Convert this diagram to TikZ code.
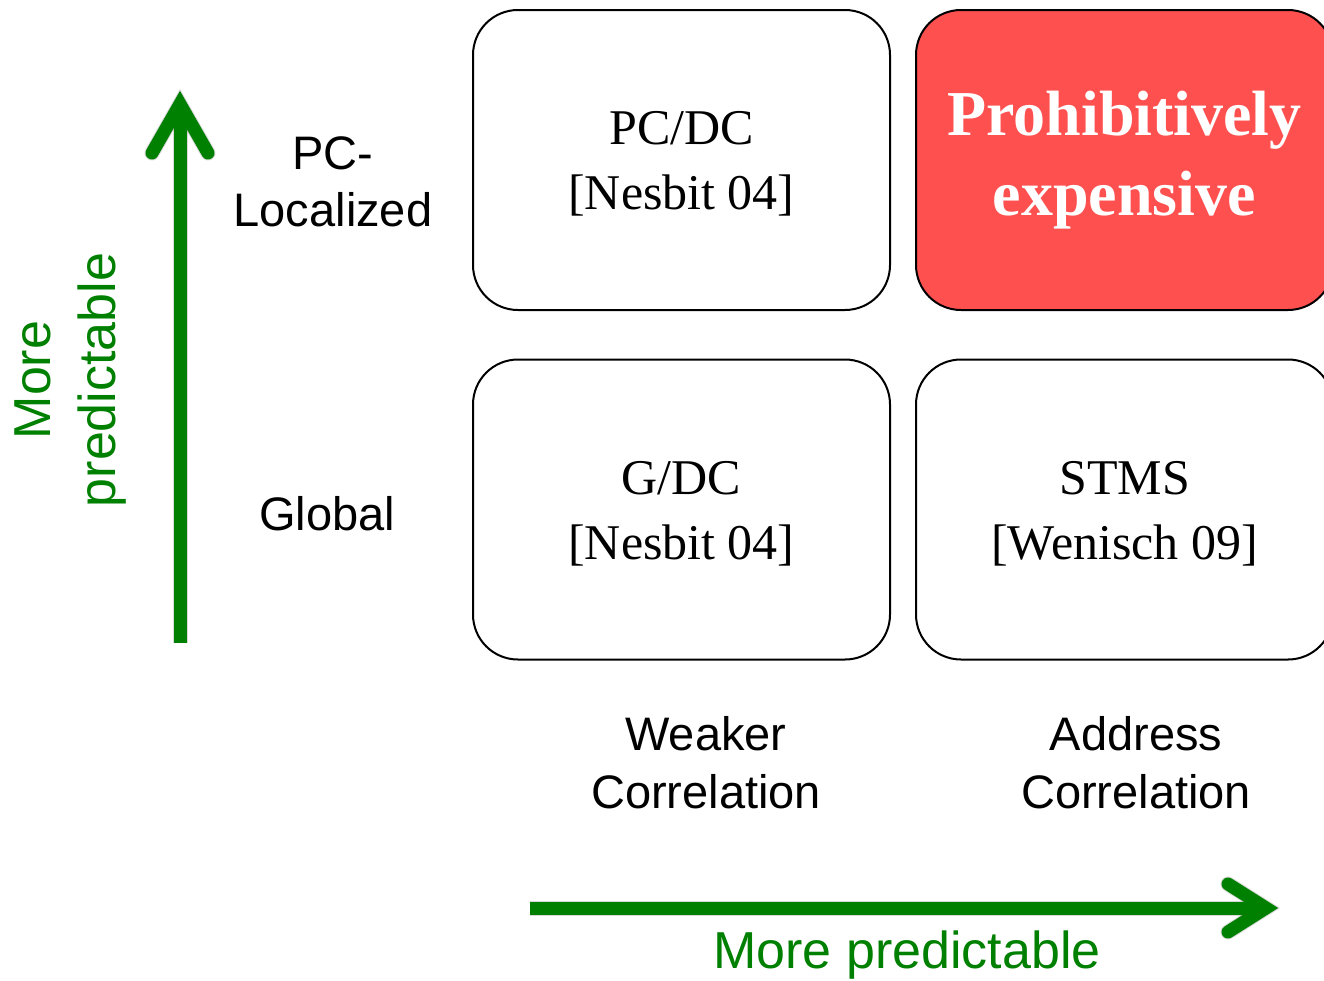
\documentclass[tikz,border=0pt]{standalone}
\usepackage{fontspec}
\setmainfont{Liberation Serif}
\setsansfont{Liberation Sans}
\definecolor{axisgreen}{RGB}{0,128,0}
\definecolor{costred}{RGB}{255,80,80}
\begin{document}
\begin{tikzpicture}[x=1pt,y=-1pt,
  cell/.style={draw=black, line width=2pt, rounded corners=45pt,
    minimum width=417pt, minimum height=300pt, align=center,
    font=\fontsize{50}{65}\selectfont},
  celltext/.style={align=center, font=\fontsize{50}{65}\selectfont},
  hotcell/.style={cell, fill=costred, text=white,
    font=\fontsize{64}{80}\selectfont\bfseries},
  rowlabel/.style={align=center, inner sep=0pt,
    font=\sffamily\fontsize{47}{57}\selectfont},
  collabel/.style={align=center, inner sep=0pt,
    font=\sffamily\fontsize{47}{58}\selectfont},
  axislabel/.style={align=center, inner sep=0pt, text=axisgreen,
    font=\sffamily\fontsize{52}{65}\selectfont},
  axisline/.style={draw=axisgreen, line width=13pt},
  axishead/.style={draw=axisgreen, line width=13pt, line cap=round, miter limit=10},
  shade/.style={draw=black, opacity=0.15, line width=15pt}
]
\useasboundingbox (0,0) rectangle (1324,980);
\clip (0,0) rectangle (1324,980);
\fill[white] (0,0) rectangle (1324,980);

% quadrant boxes; the captions of the white boxes sit a little below centre
\node[cell]    (pcdc) at (681.5,160) {};
\node[hotcell] (cost) at (1124.5,160) {Prohibitively\\expensive};
\node[cell]    (gdc)  at (681.5,509.5) {};
\node[cell]    (stms) at (1124.5,509.5) {};
\node[celltext] (pcdctext) at ([yshift=-4pt]pcdc.center) {PC/DC\\{[}Nesbit 04{]}};
\node[celltext] (gdctext) at ([yshift=-4pt]gdc.center) {G/DC\\{[}Nesbit 04{]}};
\node[celltext] (stmstext) at ([yshift=-4pt]stms.center) {STMS\\{[}Wenisch 09{]}};

% row and column labels
\node[rowlabel] (rowpc) at (333,182) {PC-\\Localized};
\node[rowlabel, anchor=base] (rowg) at (327,530) {Global};
\node[collabel] (colweak) at (706,763) {Weaker\\Correlation};
\node[collabel] (coladdr) at (1136,763) {Address\\Correlation};

% arrow anchors
\coordinate (vbot) at (180,643);
\coordinate (vtip) at (180,104);
\coordinate (vl) at (152,153);
\coordinate (vr) at (208,153);
\coordinate (hleft) at (530,908);
\coordinate (htip) at (1266,908);
\coordinate (hu) at (1228,884);
\coordinate (hd) at (1228,932);

% soft drop shadows under the arrows
\begin{scope}[shift={(2,4)}]
  \draw[shade] (vbot) -- (vtip);
  \draw[shade, line cap=round] (vl) -- (vtip) -- (vr);
  \draw[shade] (hleft) -- (htip);
  \draw[shade, line cap=round] (hu) -- (htip) -- (hd);
\end{scope}

% vertical axis arrow
\draw[axisline] (vbot) -- (vtip);
\draw[axishead] (vl) -- (vtip) -- (vr);
% horizontal axis arrow
\draw[axisline] (hleft) -- (htip);
\draw[axishead] (hu) -- (htip) -- (hd);

% axis captions
\node[axislabel, rotate=90] (vcap) at (71,380) {More\\predictable};
\node[axislabel, anchor=base] (hcap) at (907,968) {More predictable};
\end{tikzpicture}
\end{document}
